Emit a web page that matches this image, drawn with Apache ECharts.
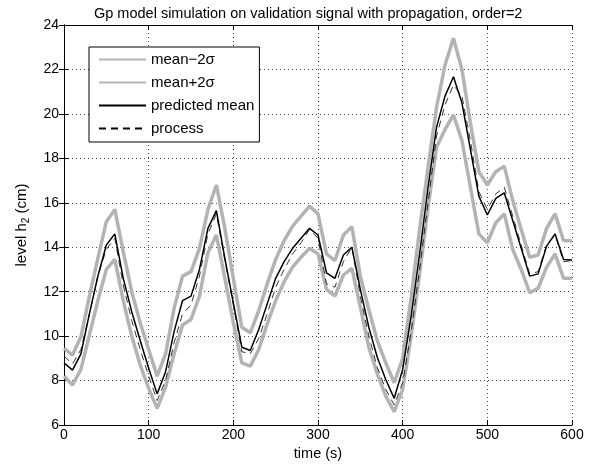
<!DOCTYPE html>
<html>
<head>
<meta charset="utf-8">
<script src="https://cdn.jsdelivr.net/npm/echarts@6/dist/echarts.min.js"></script>
<style>html,body{margin:0;padding:0;background:#fff;}#c{width:601px;height:472px;}</style>
</head>
<body>
<div id="c"></div>
<script>
const times = [0,10,20,30,40,50,60,70,80,90,100,110,120,130,140,150,160,170,180,190,200,210,220,230,240,250,260,270,280,290,300,310,320,330,340,350,360,370,380,390,400,410,420,430,440,450,460,470,480,490,500,510,520,530,540,550,560,570,580,590,600];

const meanMinus2s = [8.2,7.8,8.5,10.05,11.6,13.0,13.45,11.6,10.0,8.7,7.65,6.75,7.7,9.2,10.5,10.75,11.8,13.75,14.55,12.6,10.6,8.8,8.65,9.4,10.55,11.6,12.45,13.1,13.55,13.95,13.7,12.1,11.8,12.75,13.05,11.3,9.5,8.3,7.3,6.6,7.6,10.0,12.8,15.8,18.5,19.3,19.95,18.8,16.7,14.6,14.2,15.1,15.5,13.9,13.0,11.95,12.15,13.1,13.7,12.6,12.6];

const meanPlus2s = [9.45,9.15,9.97,11.8,13.5,15.15,15.7,13.8,12.0,10.6,9.4,8.2,9.2,11.25,12.7,12.9,13.95,15.7,16.8,14.85,12.6,10.4,10.15,11.15,12.35,13.45,14.3,14.95,15.4,15.85,15.5,13.7,13.4,14.55,14.92,12.7,11.2,9.8,8.8,7.9,9.0,11.75,14.8,17.6,20.3,22.2,23.4,22.0,19.6,17.4,16.8,17.4,17.65,16.1,14.8,13.55,13.65,14.85,15.5,14.3,14.28];

const predictedMean = [8.8,8.47,9.2,11.0,12.7,14.1,14.6,12.6,11.1,9.8,8.55,7.4,8.4,10.2,11.6,11.8,13.0,14.85,15.65,13.5,11.5,9.5,9.35,10.3,11.45,12.6,13.35,13.95,14.4,14.85,14.55,12.85,12.6,13.65,14.0,12.1,10.4,9.05,8.05,7.2,8.5,10.9,13.7,16.7,19.4,20.8,21.67,20.5,18.4,16.3,15.45,16.2,16.45,15.2,13.95,12.7,12.8,14.05,14.6,13.45,13.42];

const processValues = [9.1,8.75,9.4,11.0,12.7,13.9,14.4,12.3,10.7,9.4,8.2,7.1,8.0,9.7,11.0,11.4,12.7,14.6,15.5,13.4,11.4,9.3,9.2,9.9,11.0,12.2,13.0,13.7,14.2,14.8,14.4,12.35,12.2,13.35,14.0,11.8,10.0,8.6,7.6,6.9,7.9,10.2,13.0,16.0,19.0,20.4,21.3,20.8,18.8,16.5,15.7,16.4,16.7,15.4,14.1,12.8,12.9,14.1,14.55,13.35,13.4];

const xTicks = {min: 0, max: 600, interval: 100};
const yTicks = {min: 6, max: 24, interval: 2};
const seriesNames = ['mean\u22122\u03c3', 'mean+2\u03c3', 'predicted mean', 'process'];
const titleText = 'Gp model simulation on validation signal with propagation, order=2';

function pairs(vals){ return times.map((t,i)=>[t, vals[i]]); }

const FONT = 'Liberation Sans, Arial, sans-serif';
const gray = '#b3b3b3';

const baseX = {
  type: 'value', min: xTicks.min, max: xTicks.max, interval: xTicks.interval,
  axisLine: {show: true, lineStyle: {color: '#000', width: 1}},
  axisTick: {show: true, inside: true, length: 5, lineStyle: {color: '#000'}},
};
const baseY = {
  type: 'value', min: yTicks.min, max: yTicks.max, interval: yTicks.interval,
  axisLine: {show: true, lineStyle: {color: '#000', width: 1}},
  axisTick: {show: true, inside: true, length: 5, lineStyle: {color: '#000'}},
};

const chart = echarts.init(document.getElementById('c'), null, {renderer: 'canvas'});
chart.setOption({
  animation: false,
  backgroundColor: '#fff',
  title: {
    text: titleText, left: 89, top: 1,
    textStyle: {fontFamily: FONT, fontSize: 14.5, fontWeight: 'normal', color: '#000'}
  },
  grid: {left: 64, right: 29, top: 25, bottom: 47, outerBoundsMode: 'none', containLabel: false},
  legend: {
    orient: 'vertical', left: 89, top: 47,
    backgroundColor: '#fff', borderColor: '#000', borderWidth: 1,
    padding: [5, 5, 6, 9],
    itemWidth: 47, itemHeight: 14, itemGap: 8,
    itemStyle: {opacity: 0},
    textStyle: {fontFamily: FONT, fontSize: 15, color: '#000'},
    data: seriesNames
  },
  xAxis: [
    Object.assign({}, baseX, {
      position: 'bottom',
      name: 'time (s)', nameLocation: 'middle', nameGap: 21,
      nameTextStyle: {fontFamily: FONT, fontSize: 14.5, color: '#000'},
      axisLabel: {fontFamily: FONT, fontSize: 14, color: '#000', margin: 3},
      splitLine: {show: true, lineStyle: {color: '#444', width: 1, type: [1, 3]}}
    }),
    Object.assign({}, baseX, {
      position: 'top', axisLabel: {show: false}, splitLine: {show: false}
    })
  ],
  yAxis: [
    Object.assign({}, baseY, {
      position: 'left',
      name: '{a|level h}{s|2}{a| (cm)}', nameLocation: 'middle', nameGap: 33,
      nameTextStyle: {
        fontFamily: FONT, fontSize: 15, color: '#000',
        rich: {
          a: {fontFamily: FONT, fontSize: 15, color: '#000'},
          s: {fontFamily: FONT, fontSize: 10, color: '#000', padding: [8, 0, 0, 0]}
        }
      },
      axisLabel: {fontFamily: FONT, fontSize: 14, color: '#000', margin: 5},
      splitLine: {show: true, lineStyle: {color: '#444', width: 1, type: [1, 3]}}
    }),
    Object.assign({}, baseY, {
      position: 'right', axisLabel: {show: false}, splitLine: {show: false}
    })
  ],
  series: [
    {name: seriesNames[0], type: 'line', data: pairs(meanMinus2s), showSymbol: false, symbol: 'none',
     lineStyle: {color: gray, width: 3.5}, itemStyle: {color: gray}, z: 2},
    {name: seriesNames[1], type: 'line', data: pairs(meanPlus2s), showSymbol: false, symbol: 'none',
     lineStyle: {color: gray, width: 3.5}, itemStyle: {color: gray}, z: 2},
    {name: seriesNames[2], type: 'line', data: pairs(predictedMean), showSymbol: false, symbol: 'none',
     lineStyle: {color: '#000', width: 1.5}, itemStyle: {color: '#000'}, z: 3},
    {name: seriesNames[3], type: 'line', data: pairs(processValues), showSymbol: false, symbol: 'none',
     lineStyle: {color: '#000', width: 0.8, type: [7, 5]}, itemStyle: {color: '#000'}, z: 4}
  ]
});
</script>
</body>
</html>
